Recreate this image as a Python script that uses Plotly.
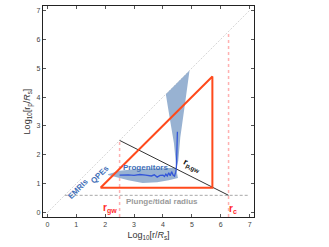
import plotly.graph_objects as go

# ---- data ----
diag_x = [0, 7]
diag_y = [0, 7]
plunge_r = 0.6
plunge_x = [0.6, 7]
r_gw = 2.5
r_c = 6.27
rpgw_x = [2.5, 6.27]
rpgw_y = [2.5, 0.6]
tri_x = [1.84, 5.71, 5.71, 1.84]
tri_y = [0.86, 4.71, 0.86, 0.86]
wedge_x = [4.10, 4.92, 4.74, 4.60, 4.53, 4.46, 4.44, 4.38, 4.28, 4.18]
wedge_y = [4.10, 4.92, 3.60, 2.60, 1.80, 1.50, 1.80, 2.40, 3.00, 3.60]
band_x = [2.10, 2.50, 3.00, 3.50, 4.00, 4.45, 4.52, 4.20, 3.80, 3.30, 2.80, 2.50, 2.10]
band_y = [1.33, 1.45, 1.50, 1.52, 1.55, 1.55, 1.20, 1.12, 1.05, 1.03, 1.12, 1.20, 1.30]
prog_x = [2.50, 2.80, 3.00, 3.20, 3.40, 3.60, 3.70, 3.80, 3.90, 4.00, 4.05, 4.10, 4.15, 4.20,
          4.25, 4.30, 4.35, 4.40, 4.44, 4.46, 4.47, 4.49, 4.48, 4.50]
prog_y = [1.30, 1.31, 1.29, 1.32, 1.30, 1.27, 1.31, 1.23, 1.29, 1.30, 1.25, 1.33, 1.27, 1.38,
          1.28, 1.42, 1.30, 1.26, 1.40, 1.50, 1.70, 2.10, 2.40, 2.80]
ticks = [0, 1, 2, 3, 4, 5, 6, 7]

blue_fill = "rgb(152,178,210)"
orange = "#ff4a1c"
pink = "rgba(255,100,100,0.5)"
red = "#ff2a2a"
txt_blue = "#3f6fb8"

fig = go.Figure()
fig.add_trace(go.Scatter(x=diag_x, y=diag_y, mode="lines",
                         line=dict(color="#cccccc", width=0.8, dash="2px,1.5px")))
fig.add_trace(go.Scatter(x=plunge_x, y=[plunge_r, plunge_r], mode="lines",
                         line=dict(color="#a8a8a8", width=1, dash="3px,2px")))
fig.add_trace(go.Scatter(x=[r_gw, r_gw], y=[-0.15, r_gw], mode="lines",
                         line=dict(color=pink, width=1.5, dash="dot")))
fig.add_trace(go.Scatter(x=[r_c, r_c], y=[-0.15, r_c], mode="lines",
                         line=dict(color=pink, width=1.5, dash="dot")))
fig.add_trace(go.Scatter(x=wedge_x, y=wedge_y, mode="lines", fill="toself",
                         fillcolor=blue_fill, line=dict(width=0)))
fig.add_trace(go.Scatter(x=band_x, y=band_y, mode="lines", fill="toself",
                         fillcolor=blue_fill, line=dict(width=0)))
fig.add_trace(go.Scatter(x=rpgw_x, y=rpgw_y, mode="lines",
                         line=dict(color="#333333", width=1)))
fig.add_trace(go.Scatter(x=tri_x, y=tri_y, mode="lines",
                         line=dict(color=orange, width=2)))
fig.add_trace(go.Scatter(x=prog_x, y=prog_y, mode="lines",
                         line=dict(color="#3355d8", width=1.3)))

font = "Liberation Sans, Arial, sans-serif"
ann = [
    dict(x=3.38, y=1.58, text="<b>Progenitors</b>", font=dict(color=txt_blue, size=8)),
    dict(x=1.09, y=0.82, text="<b>EMRIs</b>", textangle=-45, font=dict(color=txt_blue, size=8)),
    dict(x=1.82, y=1.32, text="<b>QPEs</b>", textangle=-45, font=dict(color=txt_blue, size=8)),
    dict(x=5.0, y=1.63, text="<b>r<sub>p,gw</sub></b>", textangle=27, font=dict(color="#111", size=9)),
    dict(x=3.98, y=0.38, text="<b>Plunge/tidal radius</b>", font=dict(color="#9a9a9a", size=8)),
    dict(x=2.17, y=0.14, text="<b>r<sub>gw</sub></b>", font=dict(color=red, size=10)),
    dict(x=6.42, y=0.14, text="<b>r<sub>c</sub></b>", font=dict(color=red, size=10)),
]
for a in ann:
    a.update(xref="x", yref="y", showarrow=False)

axis_common = dict(range=[-0.15, 7.15], tickvals=ticks, ticks="inside", ticklen=3,
                   tickcolor="#555", mirror="ticks", showline=True, linecolor="#222",
                   linewidth=1.2, showgrid=False, zeroline=False, automargin=False,
                   tickfont=dict(size=7, color="#444", family=font))
fig.update_layout(
    width=329, height=247,
    margin=dict(l=43, r=75, t=6, b=30),
    plot_bgcolor="white", paper_bgcolor="white",
    showlegend=False,
    font=dict(family=font),
    xaxis=dict(**axis_common,
               title=dict(text="Log<sub>10</sub>[r/<i>R</i><sub>s</sub>]", standoff=5,
                          font=dict(size=9, color="#333"))),
    yaxis=dict(**axis_common,
               title=dict(text="Log<sub>10</sub>[r<sub>p</sub>/<i>R</i><sub>s</sub>]", standoff=4,
                          font=dict(size=9, color="#333"))),
    annotations=ann,
)
fig.write_html("out.html", config={"displayModeBar": False},
               post_script="document.body.style.margin='0';document.body.style.overflow='hidden';")
